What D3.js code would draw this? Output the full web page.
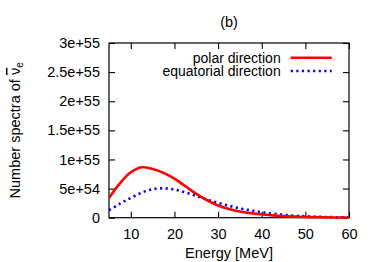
<!DOCTYPE html>
<html>
<head>
<meta charset="utf-8">
<script src="https://cdn.jsdelivr.net/npm/d3@7"></script>
<style>
  body { margin: 0; background: #fff; }
  text { font-family: "Liberation Sans", Arial, sans-serif; fill: #000; }
</style>
</head>
<body>
<div id="chart"></div>
<script>
// values, in units of 1e54
var energy = [5, 7.5, 10, 12.5, 15, 17.5, 20, 22.5, 25, 27.5, 30, 32.5, 35, 37.5, 40, 42.5, 45, 47.5, 50, 52.5, 55, 57.5, 60];
var polar = [3.4, 5.9, 7.8, 8.65, 8.35, 7.7, 6.7, 5.4, 4.1, 3.0, 2.1, 1.5, 1.05, 0.78, 0.58, 0.4, 0.27, 0.18, 0.12, 0.08, 0.05, 0.03, 0.02];
var equatorial = [1.3, 2.4, 3.4, 4.3, 4.9, 5.05, 4.85, 4.35, 3.75, 3.1, 2.55, 2.05, 1.6, 1.25, 0.93, 0.7, 0.5, 0.35, 0.25, 0.17, 0.12, 0.08, 0.06];
var xTicks = [10, 20, 30, 40, 50, 60];
var yTicks = [0, 5, 10, 15, 20, 25, 30];
var yTickLabels = ["0", "5e+54", "1e+55", "1.5e+55", "2e+55", "2.5e+55", "3e+55"];
var seriesNames = ["polar direction", "equatorial direction"];

var width = 374, height = 262;
var mLeft = 109, mRight = 349, mTop = 43, mBottom = 217.7;
var fs = 14.5;

var svg = d3.select("#chart").append("svg")
    .attr("width", width)
    .attr("height", height);

var x = d3.scaleLinear().domain([5, 60]).range([mLeft, mRight]);
var y = d3.scaleLinear().domain([0, 30]).range([mBottom, mTop]);

// frame
svg.append("rect")
    .attr("x", mLeft).attr("y", mTop)
    .attr("width", mRight - mLeft).attr("height", mBottom - mTop)
    .attr("fill", "none").attr("stroke", "#000").attr("stroke-width", 1.2);

var tl = 6;
// inward ticks on all four sides (gnuplot style)
var bx = svg.append("g").attr("transform", `translate(0,${mBottom})`)
    .call(d3.axisBottom(x).tickValues(xTicks).tickSize(-tl).tickPadding(tl + 5).tickFormat(d3.format("d")));
var tx = svg.append("g").attr("transform", `translate(0,${mTop})`)
    .call(d3.axisTop(x).tickValues(xTicks).tickSize(-tl).tickFormat(""));
var ly = svg.append("g").attr("transform", `translate(${mLeft},0)`)
    .call(d3.axisLeft(y).tickValues(yTicks).tickSize(-tl).tickPadding(tl + 3).tickFormat((d, i) => yTickLabels[i]));
var ry = svg.append("g").attr("transform", `translate(${mRight},0)`)
    .call(d3.axisRight(y).tickValues(yTicks).tickSize(-tl).tickFormat(""));

[bx, tx, ly, ry].forEach(function (g) {
  g.select(".domain").remove();
  g.selectAll(".tick line").attr("stroke", "#000").attr("stroke-width", 1.1);
  g.selectAll("text").attr("font-size", fs).attr("font-family", "Liberation Sans, Arial, sans-serif").attr("fill", "#000");
});

// curves
var line = d3.line().curve(d3.curveCatmullRom.alpha(0.5));
svg.append("clipPath").attr("id", "clip")
    .append("rect").attr("x", mLeft).attr("y", mTop).attr("width", mRight - mLeft).attr("height", mBottom - mTop + 2);

svg.append("path")
    .attr("d", line(energy.map((e, i) => [x(e), y(equatorial[i])])))
    .attr("fill", "none").attr("stroke", "#0000ff").attr("stroke-width", 2.6)
    .attr("stroke-dasharray", "2.2,3.4")
    .attr("clip-path", "url(#clip)");

svg.append("path")
    .attr("d", line(energy.map((e, i) => [x(e), y(polar[i])])))
    .attr("fill", "none").attr("stroke", "#ff0000").attr("stroke-width", 2.6)
    .attr("clip-path", "url(#clip)");

// legend
var legY = [57.7, 71];
seriesNames.forEach(function (name, i) {
  svg.append("text")
      .attr("x", 280.7).attr("y", legY[i]).attr("dy", "0.35em")
      .attr("text-anchor", "end").attr("font-size", 14)
      .text(name);
  svg.append("line")
      .attr("x1", 290.7).attr("x2", 331.7)
      .attr("y1", legY[i]).attr("y2", legY[i])
      .attr("stroke", i == 0 ? "#ff0000" : "#0000ff")
      .attr("stroke-width", 2.6)
      .attr("stroke-dasharray", i == 0 ? null : "2.2,3.4");
});

// titles
svg.append("text")
    .attr("x", (mLeft + mRight) / 2).attr("y", 26.5)
    .attr("text-anchor", "middle").attr("font-size", fs)
    .text("(b)");

svg.append("text")
    .attr("x", (mLeft + mRight) / 2).attr("y", 258)
    .attr("text-anchor", "middle").attr("font-size", fs)
    .text("Energy [MeV]");

var yl = svg.append("text")
    .attr("transform", `translate(20,${(mTop + mBottom) / 2}) rotate(-90)`)
    .attr("text-anchor", "middle").attr("font-size", fs);
yl.append("tspan").text("Number spectra of ");
yl.append("tspan").attr("text-decoration", "overline").text("\u03bd");
yl.append("tspan").attr("font-size", 10).attr("dy", 3).text("e");
</script>
</body>
</html>
